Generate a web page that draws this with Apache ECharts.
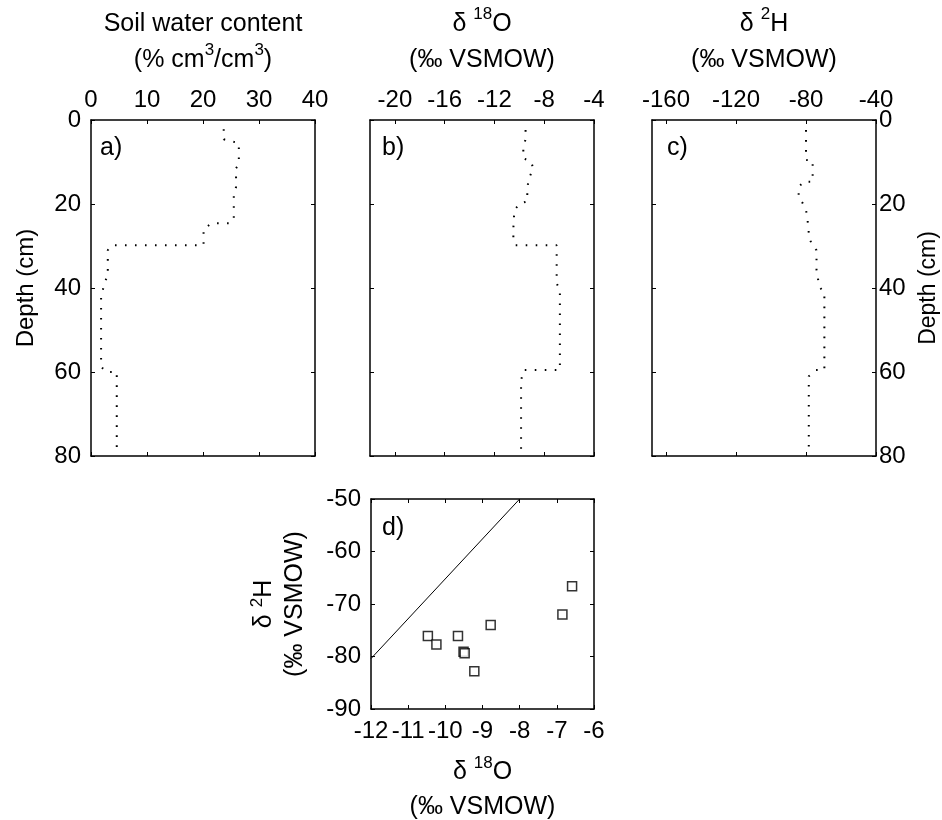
<!DOCTYPE html>
<html>
<head>
<meta charset="utf-8">
<script src="https://cdn.jsdelivr.net/npm/echarts@6/dist/echarts.min.js"></script>
<style>
html,body{margin:0;padding:0;background:#fff;}
#chart{width:942px;height:820px;}
</style>
</head>
<body>
<div id="chart"></div>
<script>
// ---------- data ----------
// a) soil water content profile
const swDepth = [2.2, 4.6, 5.5, 10.5, 11.5, 16, 17.5, 23.5, 24.6, 24.6, 26, 29.8, 29.8, 31, 37, 38.5, 42, 58.7, 60, 60, 78.6];
const swValue = [23.7, 23.7, 26.4, 26.4, 25.9, 25.9, 25.5, 25.5, 24.9, 21.5, 20.1, 20.1, 3.75, 3.0, 3.0, 2.5, 1.8, 1.8, 2.7, 4.6, 4.6];
// b) delta 18O profile
const o18Depth = [2.4, 4.6, 6.7, 9.1, 9.9, 11.5, 14.3, 17, 19.4, 19.8, 21.4, 25.8, 28.2, 29.8, 29.8, 38.9, 40.5, 59.5, 59.5, 61.9, 78.6];
const o18Value = [-9.5, -9.5, -9.68, -9.68, -9.06, -8.88, -9.28, -9.36, -9.36, -9.9, -10.4, -10.48, -10.48, -10.3, -7.0, -7.0, -6.74, -6.74, -9.62, -9.86, -9.86];
// c) delta 2H profile
const h2Depth = [2.4, 7.1, 9.5, 9.7, 12.3, 14.7, 14.7, 16, 18.5, 19.8, 21.4, 23.8, 27.8, 29.8, 31, 35.7, 39.7, 41.1, 59.5, 59.5, 61, 77.8];
const h2Value = [-80, -80, -80, -76.2, -76.2, -76.2, -81.4, -84.2, -84.2, -81.9, -80, -79.1, -78.2, -76.6, -74, -74, -72.4, -69.5, -69.5, -74.3, -78.4, -78.4];
// d) dual isotope plot
const dO18 = [-10.47, -10.24, -9.66, -9.51, -9.48, -9.22, -8.78, -6.85, -6.59];
const dH2 = [-76.1, -77.7, -76.1, -79.1, -79.4, -82.8, -74.0, -72.0, -66.6];
const lmwlX = [-12, -8];
const lmwlY = [-80.4, -50];
// tick labels
const swTicks = [0, 10, 20, 30, 40];
const o18Ticks = [-20, -16, -12, -8, -4];
const h2Ticks = [-160, -120, -80, -40];
const depthTicks = [0, 20, 40, 60, 80];
const dXTicks = [-12, -11, -10, -9, -8, -7, -6];
const dYTicks = [-90, -80, -70, -60, -50];
const panelLetters = ['a)', 'b)', 'c)', 'd)'];

// ---------- styling helpers ----------
const FONT = '"Liberation Sans", Arial, sans-serif';
const BLACK = '#000';
const sup = {fontSize: 17, lineHeight: 30, verticalAlign: 'top', fontFamily: FONT, color: BLACK};

function zip(a, b) { return a.map((v, i) => [v, b[i]]); }

function baseAxis(extra) {
  return Object.assign({
    type: 'value',
    axisLine: {show: true, onZero: false, lineStyle: {color: BLACK, width: 1.5}},
    axisTick: {show: true, inside: true, length: 4, lineStyle: {color: BLACK, width: 1}},
    axisLabel: {show: true, color: BLACK, fontSize: 24, fontFamily: FONT, margin: 8},
    splitLine: {show: false},
    nameTextStyle: {color: BLACK, fontSize: 25, fontFamily: FONT, lineHeight: 36, rich: {s: sup}}
  }, extra);
}
function withTicks(ax, ticks, showLabel) {
  ax.axisTick = Object.assign({}, ax.axisTick, {customValues: ticks});
  ax.axisLabel = Object.assign({}, ax.axisLabel, {customValues: ticks, show: showLabel});
  return ax;
}

const grids = [
  {left: 91, top: 120, width: 224, height: 336},
  {left: 370, top: 120, width: 224, height: 336},
  {left: 652, top: 120, width: 224, height: 336},
  {left: 371, top: 499, width: 223, height: 210}
].map(g => Object.assign({outerBoundsMode: 'none', containLabel: false}, g));

const dNameStyle = {color: BLACK, fontSize: 25, fontFamily: FONT, lineHeight: 35, rich: {s: sup}};
const dYNameStyle = {color: BLACK, fontSize: 25, fontFamily: FONT, lineHeight: 31, rich: {s: sup}};

const xAxes = [
  // a
  withTicks(baseAxis({gridIndex: 0, position: 'top', min: 0, max: 40,
    name: 'Soil water content\n(% cm{s|3}/cm{s|3})', nameLocation: 'middle', nameGap: 42}), swTicks, true),
  withTicks(baseAxis({gridIndex: 0, position: 'bottom', min: 0, max: 40}), swTicks, false),
  // b
  withTicks(baseAxis({gridIndex: 1, position: 'top', min: -22, max: -4,
    name: 'δ {s|18}O\n(‰ VSMOW)', nameLocation: 'middle', nameGap: 42}), o18Ticks, true),
  withTicks(baseAxis({gridIndex: 1, position: 'bottom', min: -22, max: -4}), o18Ticks, false),
  // c
  withTicks(baseAxis({gridIndex: 2, position: 'top', min: -168, max: -40,
    name: 'δ {s|2}H\n(‰ VSMOW)', nameLocation: 'middle', nameGap: 42}), h2Ticks, true),
  withTicks(baseAxis({gridIndex: 2, position: 'bottom', min: -168, max: -40}), h2Ticks, false),
  // d
  withTicks(baseAxis({gridIndex: 3, position: 'bottom', min: -12, max: -6,
    name: 'δ {s|18}O\n(‰ VSMOW)', nameLocation: 'middle', nameGap: 46, nameTextStyle: dNameStyle}), dXTicks, true),
  withTicks(baseAxis({gridIndex: 3, position: 'top', min: -12, max: -6}), dXTicks, false)
];
xAxes[6].axisLabel.margin = 10;

const yAxes = [
  // a
  withTicks(baseAxis({gridIndex: 0, position: 'left', inverse: true, min: 0, max: 80,
    name: 'Depth (cm)', nameLocation: 'middle', nameRotate: 90, nameGap: 53,
    nameTextStyle: {color: BLACK, fontSize: 24, fontFamily: FONT}}), depthTicks, true),
  withTicks(baseAxis({gridIndex: 0, position: 'right', inverse: true, min: 0, max: 80}), depthTicks, false),
  // b
  withTicks(baseAxis({gridIndex: 1, position: 'left', inverse: true, min: 0, max: 80}), depthTicks, false),
  withTicks(baseAxis({gridIndex: 1, position: 'right', inverse: true, min: 0, max: 80}), depthTicks, false),
  // c
  withTicks(baseAxis({gridIndex: 2, position: 'left', inverse: true, min: 0, max: 80}), depthTicks, false),
  withTicks(baseAxis({gridIndex: 2, position: 'right', inverse: true, min: 0, max: 80,
    name: 'Depth (cm)', nameLocation: 'middle', nameRotate: 90, nameGap: 41,
    nameTextStyle: {color: BLACK, fontSize: 23, fontFamily: FONT}}), depthTicks, true),
  // d
  withTicks(baseAxis({gridIndex: 3, position: 'left', min: -90, max: -50,
    name: 'δ {s|2}H\n(‰ VSMOW)', nameLocation: 'middle', nameRotate: 90, nameGap: 60, nameTextStyle: dYNameStyle}), dYTicks, true),
  withTicks(baseAxis({gridIndex: 3, position: 'right', min: -90, max: -50}), dYTicks, false)
];
yAxes[0].axisLabel.margin = 10;
yAxes[5].axisLabel.margin = 3;
yAxes[6].axisLabel.margin = 10;

const dotted = {color: BLACK, width: 2, type: [1.6, 8.4]};

const series = [
  {type: 'line', xAxisIndex: 0, yAxisIndex: 0, data: zip(swValue, swDepth), showSymbol: false, symbol: 'none', lineStyle: dotted},
  {type: 'line', xAxisIndex: 2, yAxisIndex: 2, data: zip(o18Value, o18Depth), showSymbol: false, symbol: 'none', lineStyle: dotted},
  {type: 'line', xAxisIndex: 4, yAxisIndex: 4, data: zip(h2Value, h2Depth), showSymbol: false, symbol: 'none', lineStyle: dotted},
  {type: 'line', xAxisIndex: 6, yAxisIndex: 6, data: zip(lmwlX, lmwlY), showSymbol: false, symbol: 'none',
    lineStyle: {color: BLACK, width: 1}},
  {type: 'scatter', xAxisIndex: 6, yAxisIndex: 6, data: zip(dO18, dH2), symbol: 'rect', symbolSize: 9,
    itemStyle: {color: '#fff', borderColor: BLACK, borderWidth: 1.5}}
];

const letterPos = [[100, 136], [382, 136], [667, 136], [382, 516]];
const graphic = panelLetters.map((t, i) => ({
  type: 'text', left: letterPos[i][0], top: letterPos[i][1], z: 100,
  style: {text: t, fill: BLACK, font: '25px ' + FONT}
}));

const chart = echarts.init(document.getElementById('chart'), null, {renderer: 'canvas'});
chart.setOption({
  animation: false,
  backgroundColor: '#fff',
  grid: grids,
  xAxis: xAxes,
  yAxis: yAxes,
  series: series,
  graphic: graphic
});
</script>
</body>
</html>
